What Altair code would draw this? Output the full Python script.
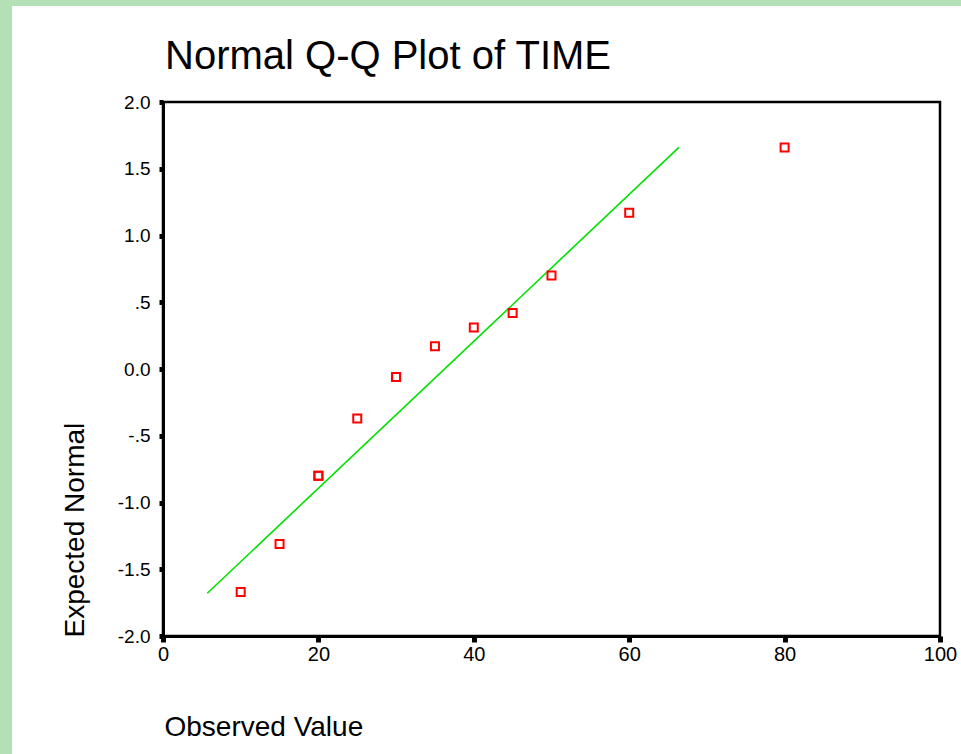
import altair as alt
import pandas as pd

observed = [10, 15, 20, 20, 25, 30, 30, 35, 40, 45, 50, 60, 80]
expected = [-1.67, -1.31, -0.80, -0.80, -0.37, -0.06, -0.06, 0.17, 0.31, 0.42, 0.70, 1.17, 1.66]

# Reference line end points
line_x = [5.7, 66.4]
line_y = [-1.68, 1.66]

x_ticks = [0, 20, 40, 60, 80, 100]
y_ticks = [2.0, 1.5, 1.0, 0.5, 0.0, -0.5, -1.0, -1.5, -2.0]
y_tick_labels = ["2.0", "1.5", "1.0", ".5", "0.0", "-.5", "-1.0", "-1.5", "-2.0"]

TITLE = "Normal Q-Q Plot of TIME"

pts = pd.DataFrame({"obs": observed, "exp": expected})
ln = pd.DataFrame({"obs": line_x, "exp": line_y})

label_expr = " : ".join(
    f"datum.value == {v} ? '{l}'" for v, l in zip(y_ticks, y_tick_labels)
) + " : ''"

FONT = "Liberation Sans"
W, H = 777, 534
PL, PT = 163, 102

x_scale = alt.Scale(domain=[0, 100], nice=False)
y_scale = alt.Scale(domain=[-2, 2], nice=False)

x_axis = alt.Axis(
    values=x_ticks, title="Observed Value", grid=False, labelFlush=False,
    labelFont=FONT, labelFontSize=20, labelColor="black", labelPadding=2,
    titleFont=FONT, titleFontSize=28, titleFontWeight="normal", titleColor="black",
    titleX=1, titleY=99, titleAlign="left", titleBaseline="alphabetic",
    domainColor="black", domainWidth=3, tickColor="black", tickWidth=5, tickSize=6,
)
y_axis = alt.Axis(
    values=y_ticks, labelExpr=label_expr, title="Expected Normal", grid=False, labelFlush=False,
    labelFont=FONT, labelFontSize=19, labelColor="black", labelPadding=9,
    titleFont=FONT, titleFontSize=28, titleFontWeight="normal", titleColor="black",
    titleAngle=270, titleX=-80, titleY=H + 1, titleAlign="left", titleBaseline="alphabetic",
    domainColor="black", domainWidth=3, tickColor="black", tickWidth=5, tickSize=4,
)

line = alt.Chart(ln).mark_line(color="#00e000", strokeWidth=1.6).encode(
    x=alt.X("obs:Q", scale=x_scale, axis=x_axis),
    y=alt.Y("exp:Q", scale=y_scale, axis=y_axis),
)

points = alt.Chart(pts).mark_point(
    shape="square", filled=False, color="#ff0000", size=64, strokeWidth=2, opacity=1
).encode(
    x=alt.X("obs:Q", scale=x_scale),
    y=alt.Y("exp:Q", scale=y_scale),
)

GREEN = "#b3e0b5"
one = pd.DataFrame({"a": [0]})
left_band = alt.Chart(one).mark_rect(color=GREEN).encode(
    x=alt.value(-PL), x2=alt.value(-PL + 12), y=alt.value(-PT), y2=alt.value(754 - PT)
)
top_band = alt.Chart(one).mark_rect(color=GREEN).encode(
    x=alt.value(-PL), x2=alt.value(961 - PL), y=alt.value(-PT), y2=alt.value(-PT + 6)
)
title = alt.Chart(one).mark_text(
    font=FONT, fontSize=40, color="black", align="left", baseline="alphabetic"
).encode(x=alt.value(2), y=alt.value(-33), text=alt.value(TITLE))

chart = alt.layer(left_band, top_band, line, points, title).properties(
    width=W, height=H,
    autosize=alt.AutoSizeParams(type="none"),
    padding={"left": PL, "top": PT, "right": 961 - PL - W, "bottom": 754 - PT - H},
    background="white",
).configure_view(stroke="black", strokeWidth=2.5)

chart.save("out.html", embed_options={"renderer": "svg", "actions": False})
